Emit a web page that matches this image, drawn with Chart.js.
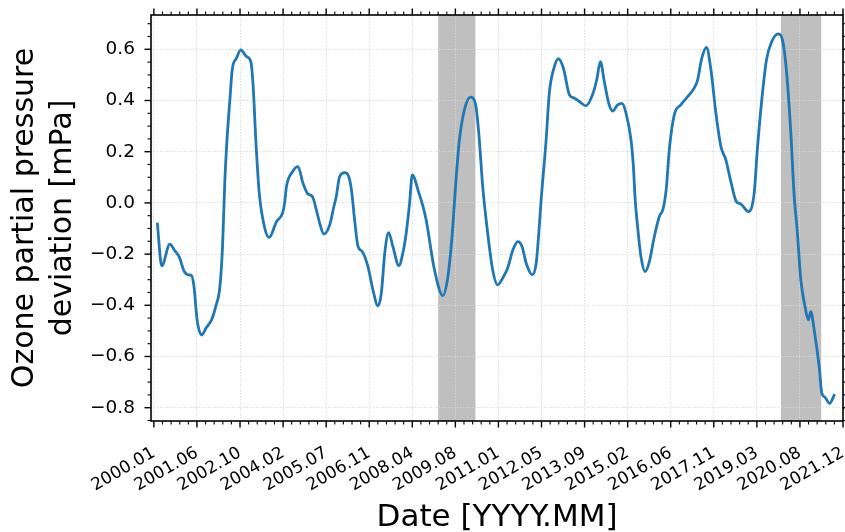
<!DOCTYPE html>
<html>
<head>
<meta charset="utf-8">
<script src="https://cdn.jsdelivr.net/npm/chart.js@4.4.1/dist/chart.umd.min.js"></script>
<style>
  html, body { margin: 0; padding: 0; background: #fff; }
  #contenedor { width: 845px; height: 532px; }
</style>
</head>
<body>
<div id="contenedor"><canvas id="grafica" width="845" height="532"></canvas></div>
<script>
// meses desde 2000.01 (0 = 2000.01)
const meses = [
  1.3, 3.0, 6.1, 7.8, 9.7, 11.6, 13.1, 14.4, 15.3, 16.5, 18.2, 20.1, 22.0, 23.6, 25.2, 26.2, 27.1, 27.9, 29.0, 29.9,
  31.5, 33.2, 35.3, 37.0, 37.9, 38.9, 40.2, 42.3, 44.0, 46.8, 49.1, 49.9, 50.6, 52.9, 55.0, 56.9, 58.8, 60.5, 62.0, 63.3,
  64.9, 67.1, 68.7, 69.6, 70.9, 72.8, 74.1, 75.4, 76.6, 77.9, 79.5, 81.7, 83.6, 85.5, 86.8, 88.1, 89.6, 91.2, 93.5, 95.0,
  96.3, 97.6, 98.6, 101.1, 102.7, 103.9, 107.1, 110.3, 112.2, 113.9, 114.7, 115.4, 116.6, 118.5, 120.8, 122.7, 124.0, 125.5, 127.4, 129.3,
  131.2, 133.1, 135.0, 137.0, 138.9, 140.5, 142.1, 144.4, 145.9, 146.9, 147.8, 149.7, 150.9, 152.5, 154.4, 156.3, 158.6, 160.5, 162.4, 164.9,
  167.4, 169.0, 170.4, 171.9, 173.6, 175.1, 177.0, 178.7, 180.2, 182.1, 183.0, 183.7, 184.6, 185.9, 187.5, 189.1, 191.0, 192.9, 194.4, 195.6,
  196.7, 198.6, 201.1, 204.3, 206.2, 207.5, 209.1, 210.9, 212.6, 214.5, 216.4, 218.3, 220.2, 222.3, 224.0, 226.9, 229.1, 230.3, 232.0, 233.8,
  235.8, 238.3, 239.9, 241.5, 243.1, 244.3, 245.6, 246.9, 248.5, 249.8, 250.7, 252.0, 253.9, 254.9, 256.1, 257.9, 259.8
];
const desviacion = [
  -0.077, -0.246, -0.161, -0.184, -0.212, -0.268, -0.281, -0.284, -0.327, -0.457, -0.516, -0.486, -0.457, -0.405, -0.327, -0.17, 0.09, 0.246, 0.402, 0.52,
  0.565, 0.598, 0.572, 0.552, 0.454, 0.246, 0.04, -0.098, -0.135, -0.073, -0.04, 0.0, 0.064, 0.122, 0.142, 0.077, 0.035, 0.025, -0.027, -0.08,
  -0.122, -0.086, -0.014, 0.025, 0.103, 0.118, 0.109, 0.051, -0.066, -0.17, -0.19, -0.249, -0.34, -0.402, -0.353, -0.197, -0.116, -0.17, -0.245, -0.197,
  -0.118, 0.0, 0.109, 0.04, -0.014, -0.066, -0.262, -0.362, -0.288, -0.118, 0.0, 0.103, 0.246, 0.363, 0.413, 0.389, 0.272, 0.064, -0.118, -0.262,
  -0.32, -0.294, -0.255, -0.184, -0.151, -0.17, -0.236, -0.281, -0.236, -0.118, 0.012, 0.246, 0.428, 0.52, 0.563, 0.526, 0.422, 0.409, 0.396, 0.379,
  0.422, 0.48, 0.552, 0.474, 0.389, 0.359, 0.383, 0.389, 0.35, 0.246, 0.142, 0.012, -0.092, -0.21, -0.268, -0.229, -0.131, -0.053, -0.021, 0.06,
  0.207, 0.344, 0.383, 0.422, 0.448, 0.48, 0.565, 0.607, 0.52, 0.35, 0.22, 0.168, 0.083, 0.005, -0.004, -0.034, 0.038, 0.207, 0.402, 0.559,
  0.63, 0.66, 0.637, 0.507, 0.272, 0.038, -0.118, -0.30, -0.405, -0.457, -0.425, -0.496, -0.639, -0.743, -0.759, -0.783, -0.747
];
const etiquetasFecha = ['2000.01', '2001.06', '2002.10', '2004.02', '2005.07', '2006.11', '2008.04', '2009.08',
  '2011.01', '2012.05', '2013.09', '2015.02', '2016.06', '2017.11', '2019.03', '2020.08', '2021.12'];
const mesFinal = 263; // 2021.12
const ticksY = [-0.8, -0.6, -0.4, -0.2, 0, 0.2, 0.4, 0.6];
// periodos sombreados (meses desde 2000.01)
const periodosSombreados = [[108.5, 122.7], [239.3, 254.7]];

const pasoX = mesFinal / (etiquetasFecha.length - 1);
const ticksX = etiquetasFecha.map((_, i) => i * pasoX);

Chart.defaults.font.family = "'DejaVu Sans', sans-serif";
Chart.defaults.color = '#000';

// sombreado, marco y marcas menores
const pluginEjes = {
  id: 'ejes',
  beforeDraw(chart) {
    const { ctx, chartArea: a, scales: { x } } = chart;
    ctx.save();
    ctx.fillStyle = '#bfbfbf';
    periodosSombreados.forEach(([ini, fin]) => {
      const x1 = x.getPixelForValue(ini), x2 = x.getPixelForValue(fin);
      ctx.fillRect(x1, a.top, x2 - x1, a.bottom - a.top);
    });
    ctx.restore();
  },
  afterDraw(chart) {
    const { ctx, chartArea: a, scales: { x, y } } = chart;
    ctx.save();
    ctx.strokeStyle = '#000';
    const marca = (x1, y1, x2, y2, w) => {
      ctx.lineWidth = w;
      ctx.beginPath(); ctx.moveTo(x1, y1); ctx.lineTo(x2, y2); ctx.stroke();
    };
    // eje x
    for (let v = 0; v <= mesFinal + 0.01; v += pasoX / 5) {
      const mayor = Math.abs(v / pasoX - Math.round(v / pasoX)) < 0.01;
      const px = x.getPixelForValue(v);
      const l = mayor ? 6.5 : 3.5;
      marca(px, a.bottom, px, a.bottom + l, mayor ? 1.4 : 1.1);
      marca(px, a.top, px, a.top - l, mayor ? 1.4 : 1.1);
    }
    // eje y
    for (let k = -17; k <= 14; k++) {
      const v = k * 0.05;
      if (v < y.min || v > y.max) continue;
      const mayor = k % 4 === 0;
      const py = y.getPixelForValue(v);
      const l = mayor ? 6.5 : 3.5;
      marca(a.left, py, a.left - l, py, mayor ? 1.4 : 1.1);
      marca(a.right, py, a.right + l, py, mayor ? 1.4 : 1.1);
    }
    ctx.lineWidth = 1.6;
    ctx.strokeRect(a.left, a.top, a.right - a.left, a.bottom - a.top);
    ctx.restore();
  }
};

const ctx = document.getElementById('grafica').getContext('2d');
const grafico = new Chart(ctx, {
  type: 'line',
  data: {
    datasets: [{
      data: meses.map((m, i) => ({ x: m, y: desviacion[i] })),
      borderColor: '#1f77b4',
      borderWidth: 2.8,
      pointRadius: 0,
      fill: false,
      cubicInterpolationMode: 'monotone'
    }]
  },
  options: {
    responsive: false,
    animation: false,
    devicePixelRatio: 1,
    layout: { padding: { top: 15, right: 2, bottom: 0, left: 0 } },
    plugins: { legend: { display: false }, tooltip: { enabled: false } },
    scales: {
      x: {
        type: 'linear',
        min: -1.1,
        max: mesFinal,
        afterBuildTicks: (scale) => { scale.ticks = ticksX.map(v => ({ value: v })); },
        afterFit: (scale) => { scale.height = 111; scale.paddingLeft = 0; scale.paddingRight = 0; },
        ticks: {
          autoSkip: false,
          minRotation: 30,
          maxRotation: 30,
          padding: 22,
          labelOffset: 0,
          font: { size: 17 },
          color: '#000',
          callback: (val, idx) => etiquetasFecha[idx]
        },
        grid: { drawTicks: false, color: '#d9d9d9', lineWidth: 0.9 },
        border: { display: false, dash: [1.5, 1.5] },
        title: {
          display: true,
          text: 'Date [YYYY.MM]',
          font: { size: 31, lineHeight: 0.9 },
          color: '#000',
          padding: 0
        }
      },
      y: {
        min: -0.852,
        max: 0.734,
        afterBuildTicks: (scale) => { scale.ticks = ticksY.map(v => ({ value: v })); },
        afterFit: (scale) => { scale.width = 151; scale.paddingTop = 0; scale.paddingBottom = 0; },
        ticks: {
          padding: 16,
          font: { size: 18.5 },
          color: '#000',
          callback: (v) => (v < 0 ? '\u2212' : '') + Math.abs(v).toFixed(1)
        },
        grid: { drawTicks: false, color: '#d9d9d9', lineWidth: 0.9 },
        border: { display: false, dash: [1.5, 1.5] },
        title: {
          display: true,
          text: ['Ozone partial pressure', 'deviation [mPa]'],
          font: { size: 30, lineHeight: 1.27 },
          color: '#000',
          padding: { top: 6, bottom: 0 }
        }
      }
    }
  },
  plugins: [pluginEjes]
});
</script>
</body>
</html>
